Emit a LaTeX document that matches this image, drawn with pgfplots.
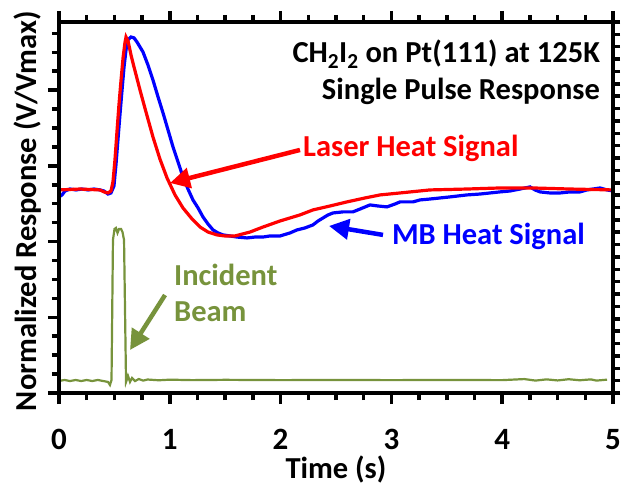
\documentclass[border=0pt]{standalone}
\usepackage{fontspec}
\setmainfont{Carlito}
\usepackage{pgfplots}
\pgfplotsset{compat=1.18}
\usetikzlibrary{arrows.meta}

\definecolor{mbblue}{HTML}{0000FF}
\definecolor{laserred}{HTML}{FF0000}
\definecolor{beamgreen}{HTML}{77933C}

\newcommand\bigbf{\fontsize{30.5bp}{36bp}\selectfont\bfseries}

\begin{document}
\begin{tikzpicture}
\useasboundingbox (-59bp,-97bp) rectangle (563bp,393bp);
% main axis: time axis with ticks on bottom and top, minor ticks on the left
\begin{axis}[
  at={(0,0)}, anchor=south west,
  scale only axis, width=554bp, height=371bp,
  xmin=0, xmax=5, ymin=0, ymax=2.45,
  xtick={0,...,5}, minor xtick={0.25,0.5,0.75,1.25,1.5,1.75,2.25,2.5,2.75,3.25,3.5,3.75,4.25,4.5,4.75},
  ytick={0,0.5,...,2}, minor ytick={0.125,0.25,0.375,0.625,0.75,0.875,1.125,1.25,1.375,1.625,1.75,1.875,2.125,2.25,2.375},
  yticklabels={},
  xtick pos=both, ytick pos=left,
  xtick align=outside, ytick align=outside,
  major tick length=11bp, minor tick length=7bp,
  every tick/.style={black, line width=3.5bp},
  axis line style={line width=4bp},
  /pgf/number format/assume math mode=true,
  xticklabel style={font=\fontsize{31bp}{36bp}\selectfont\bfseries, yshift=-22bp},
  xlabel={Time (s)},
  xlabel style={font=\bigbf, yshift=1bp},
  ylabel={Normalized Response (V/Vmax)},
  ylabel style={font=\bigbf, at={(axis description cs:-0.057,0.49)}, anchor=center},
  clip=false,
]
% incident molecular beam pulse
\addplot[beamgreen, line width=2.2bp] coordinates {
(0,0.079) (0.05,0.086) (0.10,0.079) (0.15,0.086) (0.20,0.079) (0.25,0.086)
(0.30,0.079) (0.35,0.086) (0.40,0.079) (0.442,0.073) (0.460,0.053) (0.474,0.086)
(0.487,1.011) (0.501,1.083) (0.514,1.090) (0.528,1.057) (0.542,1.083) (0.560,1.083)
(0.573,1.063) (0.587,1.011) (0.605,0.073) (0.623,0.112) (0.641,0.073) (0.659,0.099)
(0.686,0.079) (0.72,0.092) (0.76,0.082) (0.80,0.089) (0.9,0.084) (1.0,0.088)
(1.2,0.085) (1.5,0.087) (2.0,0.085) (2.5,0.086) (3.0,0.085) (3.5,0.086) (4.0,0.085)
(4.2,0.092) (4.3,0.082) (4.4,0.090) (4.5,0.083) (4.6,0.091) (4.7,0.084) (4.8,0.090)
(4.85,0.082) (4.946,0.088)
};
% molecular beam heat signal
\addplot[mbblue, line width=3.2bp] coordinates {
(0.000,1.295) (0.027,1.308) (0.054,1.334) (0.099,1.347) (0.153,1.341) (0.208,1.347)
(0.262,1.341) (0.316,1.347) (0.370,1.341) (0.406,1.334) (0.442,1.314) (0.469,1.321)
(0.496,1.367) (0.514,1.506) (0.532,1.671) (0.550,1.836) (0.569,2.001) (0.587,2.153)
(0.605,2.266) (0.623,2.332) (0.650,2.351) (0.677,2.345) (0.704,2.318) (0.731,2.285)
(0.758,2.252) (0.803,2.166) (0.848,2.067) (0.894,1.955) (0.939,1.849) (0.984,1.737)
(1.029,1.625) (1.074,1.526) (1.119,1.427) (1.164,1.347) (1.209,1.275) (1.255,1.222)
(1.300,1.162) (1.345,1.116) (1.390,1.077) (1.435,1.057) (1.480,1.044) (1.543,1.037)
(1.606,1.030) (1.697,1.024) (1.769,1.030) (1.841,1.030) (1.904,1.037) (1.995,1.037)
(2.085,1.057) (2.148,1.077) (2.220,1.090) (2.292,1.110) (2.338,1.136) (2.383,1.156)
(2.428,1.176) (2.473,1.189) (2.563,1.196) (2.653,1.196) (2.717,1.215) (2.807,1.242)
(2.879,1.235) (2.960,1.229) (3.032,1.248) (3.078,1.262) (3.195,1.262) (3.258,1.275)
(3.348,1.281) (3.439,1.288) (3.529,1.295) (3.682,1.308) (3.800,1.314) (3.890,1.321)
(3.980,1.328) (4.070,1.334) (4.161,1.347) (4.251,1.361) (4.296,1.341) (4.341,1.328)
(4.431,1.321) (4.522,1.321) (4.612,1.328) (4.702,1.328) (4.765,1.341) (4.819,1.347)
(4.883,1.354) (4.946,1.341) (5.000,1.334)
};
% laser heat signal
\addplot[laserred, line width=3.2bp] coordinates {
(0.000,1.341) (0.190,1.347) (0.370,1.341) (0.406,1.328) (0.442,1.321) (0.469,1.334)
(0.487,1.394) (0.505,1.539) (0.523,1.724) (0.541,1.902) (0.560,2.067) (0.578,2.212)
(0.596,2.318) (0.605,2.351) (0.623,2.325) (0.650,2.232) (0.677,2.153) (0.731,2.001)
(0.785,1.856) (0.848,1.691) (0.911,1.545) (0.975,1.420) (1.047,1.308) (1.119,1.222)
(1.200,1.150) (1.273,1.096) (1.345,1.063) (1.426,1.044) (1.498,1.037) (1.588,1.037)
(1.724,1.063) (1.841,1.096) (1.995,1.136) (2.175,1.176) (2.292,1.209) (2.446,1.235)
(2.599,1.262) (2.762,1.288) (2.897,1.308) (3.078,1.321) (3.348,1.341) (3.682,1.347)
(3.980,1.354) (4.278,1.354) (4.612,1.347) (5.000,1.341)
};
% annotations
\node[anchor=base east, font=\bigbf, inner sep=0] at (axis cs:4.883,2.180)
  {CH\textsubscript{2}I\textsubscript{2} on Pt(111) at 125K};
\node[anchor=base east, font=\bigbf, inner sep=0] at (axis cs:4.883,1.935)
  {Single Pulse Response};
\node[anchor=base west, font=\bigbf, text=laserred, inner sep=0] at (axis cs:2.202,1.565)
  {Laser Heat Signal};
\node[anchor=base east, font=\bigbf, text=mbblue, inner sep=0] at (axis cs:4.747,0.978)
  {MB Heat Signal};
\node[anchor=base west, font=\bigbf, text=beamgreen, inner sep=0] at (axis cs:1.038,0.713)
  {Incident};
\node[anchor=base west, font=\bigbf, text=beamgreen, inner sep=0] at (axis cs:1.038,0.469)
  {Beam};
\draw[laserred, line width=4.5bp, -{Triangle[length=20bp,width=20bp]}]
  (axis cs:2.175,1.605) -- (axis cs:1.002,1.387);
\draw[mbblue, line width=4.5bp, -{Triangle[length=20bp,width=20bp]}]
  (axis cs:2.924,1.044) -- (axis cs:2.437,1.103);
\draw[beamgreen, line width=4.5bp, -{Triangle[length=20bp,width=20bp]}]
  (axis cs:0.957,0.647) -- (axis cs:0.641,0.284);
\end{axis}
% right-hand frame ticks
\begin{axis}[
  at={(0,0)}, anchor=south west,
  scale only axis, width=554bp, height=371bp,
  xmin=0, xmax=5, ymin=0, ymax=30,
  xtick=\empty, ytick={0,...,30}, yticklabels={},
  ytick pos=right, ytick align=outside,
  major tick length=7bp,
  every tick/.style={black, line width=3.5bp},
  axis line style={line width=4bp},
]
\end{axis}
\end{tikzpicture}
\end{document}
